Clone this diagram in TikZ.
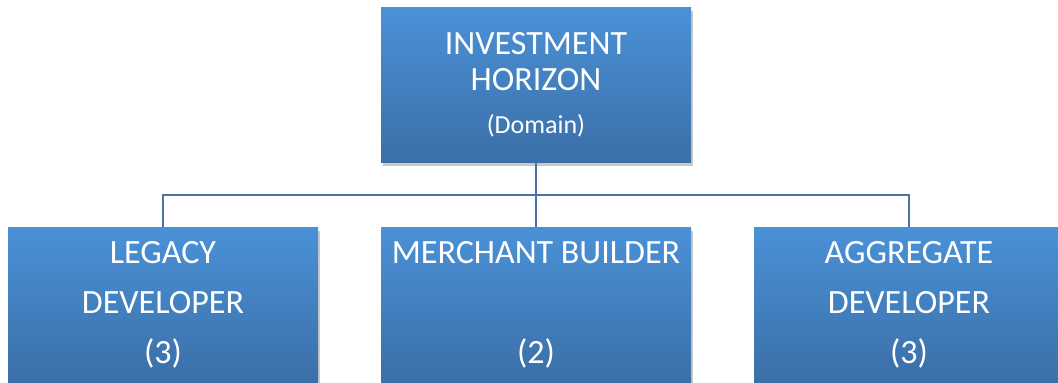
\documentclass[tikz,border=0pt]{standalone}
\usepackage{fontspec}
\setmainfont{Carlito}
\usepackage{tikz}
\usetikzlibrary{shadows}

\definecolor{boxtop}{RGB}{74,145,215}
\definecolor{boxbot}{RGB}{59,111,167}
\definecolor{linkblue}{RGB}{74,115,165}

\begin{document}
\begin{tikzpicture}[
    x=1pt, y=-1pt,
    unit/.style={rectangle, minimum width=310pt, minimum height=155pt, inner sep=0pt,
        top color=boxtop, bottom color=boxbot, align=center, text=white,
        drop shadow={shadow xshift=2pt, shadow yshift=-3pt, opacity=0.35, fill=black!60},
        font=\fontsize{34}{50}\selectfont},
    link/.style={draw=linkblue, line width=1.6pt}
]
\useasboundingbox (0,0) rectangle (1058,383);
\clip (0,0) rectangle (1058,383);

\node[unit, font=\fontsize{34}{36}\selectfont] (horizon) at (536,85)
    {INVESTMENT\\HORIZON\\[7pt]{\fontsize{26}{28}\selectfont (Domain)}};
\node[unit] (legacy) at (163,305) {LEGACY\\DEVELOPER\\(3)};
\node[unit] (merchant) at (536,305) {MERCHANT BUILDER\\[50pt](2)};
\node[unit] (aggregate) at (909,305) {AGGREGATE\\DEVELOPER\\(3)};

% tree connectors
\coordinate (bus) at (536,195);
\draw[link] (horizon.south) -- (merchant.north);
\draw[link] (legacy.north) |- (bus) -| (aggregate.north);
\end{tikzpicture}
\end{document}
